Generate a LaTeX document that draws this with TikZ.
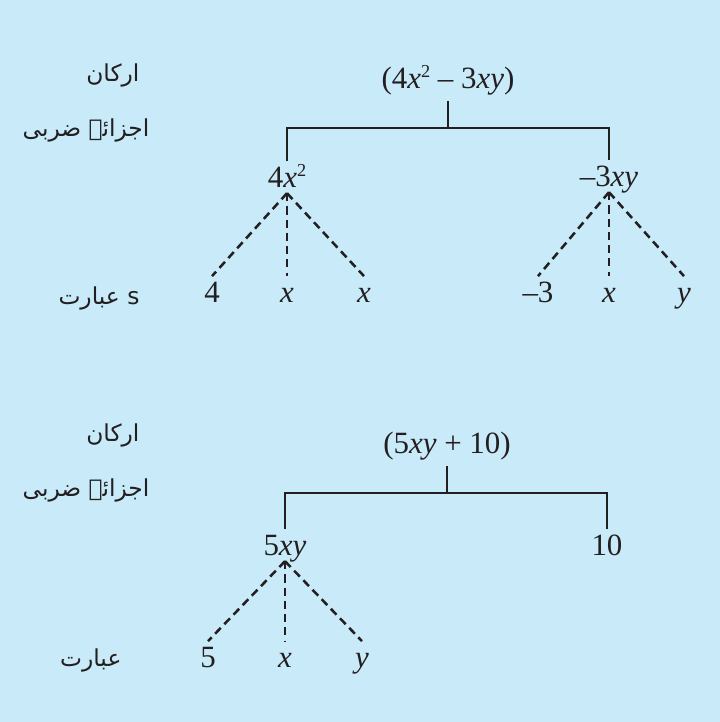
\documentclass[tikz,border=0pt]{standalone}
\usepackage{fontspec}
\setmainfont{Liberation Serif}
\newfontfamily\urdufont[Script=Arabic]{DejaVu Sans}
\TeXXeTstate=1
\definecolor{boxBlue}{RGB}{200, 234, 249}
\definecolor{inkBlack}{RGB}{35, 31, 32}
\newcommand{\sq}{\raisebox{0.75ex}{\fontsize{6.5}{7}\selectfont 2}}
\begin{document}
\begin{tikzpicture}[x=0.0125cm, y=-0.0125cm,
    term/.style={anchor=base, inner sep=2pt, text height=0.7em, text depth=0pt,
      font=\fontsize{11}{13}\selectfont, text=inkBlack},
    whole/.style={term, text depth=0.25em},
    urdu/.style={anchor=east, inner sep=0pt, font=\urdufont\fontsize{8.3}{10}\selectfont, text=inkBlack},
    link/.style={draw=inkBlack, line width=0.9pt},
    part/.style={draw=inkBlack, line width=0.9pt, dash pattern=on 2.9pt off 1.8pt}]
        \useasboundingbox (0,0) rectangle (720,722);
        \fill[boxBlue] (0,0) rectangle (720,722);
        \node[urdu] (lab1) at (140,75) {\beginR ارکان\endR};
        \node[urdu] (lab2) at (150,130) {\beginR اجزائے ضربی\endR};
        \node[urdu] (lab3) at (140,298) {\beginR s عبارت\endR};
        \node[urdu] (lab4) at (140,435) {\beginR ارکان\endR};
        \node[urdu] (lab5) at (150,490) {\beginR اجزائے ضربی\endR};
        \node[urdu] (lab6) at (122,660) {\beginR عبارت\endR};
        \node[whole] (exprA) at (448,88) {(4\textit{x}\sq{} – 3\textit{xy})};
        \coordinate (barA) at (448,128);
        \node[term] (termA1) at (287,187) {4\textit{x}\sq};
        \node[term] (termA2) at (609,186) {–3\textit{xy}};
        \node[term] (facA1) at (212,302) {4};
        \node[term] (facA2) at (287,302) {\textit{x}};
        \node[term] (facA3) at (364,302) {\textit{x}};
        \node[term] (facA4) at (538,302) {–3};
        \node[term] (facA5) at (609,302) {\textit{x}};
        \node[term] (facA6) at (684,302) {\textit{y}};
        \draw[link] (exprA.south) -- (barA);
        \draw[link] (termA1.north) |- (barA) -| (termA2.north);
        \foreach \f in {1,2,3}
          \draw[part] (termA1.south) -- (facA\f.north);
        \foreach \f in {4,5,6}
          \draw[part] (termA2.south) -- (facA\f.north);
        \node[whole] (exprB) at (447,453) {(5\textit{xy} + 10)};
        \coordinate (barB) at (447,493);
        \node[term] (termB1) at (285,555) {5\textit{xy}};
        \node[term] (termB2) at (607,555) {10};
        \node[term] (facB1) at (208,667) {5};
        \node[term] (facB2) at (285,667) {\textit{x}};
        \node[term] (facB3) at (362,667) {\textit{y}};
        \draw[link] (exprB.south) -- (barB);
        \draw[link] (termB1.north) |- (barB) -| (termB2.north);
        \foreach \f in {1,2,3}
          \draw[part] (termB1.south) -- (facB\f.north);
      \end{tikzpicture}
\end{document}
